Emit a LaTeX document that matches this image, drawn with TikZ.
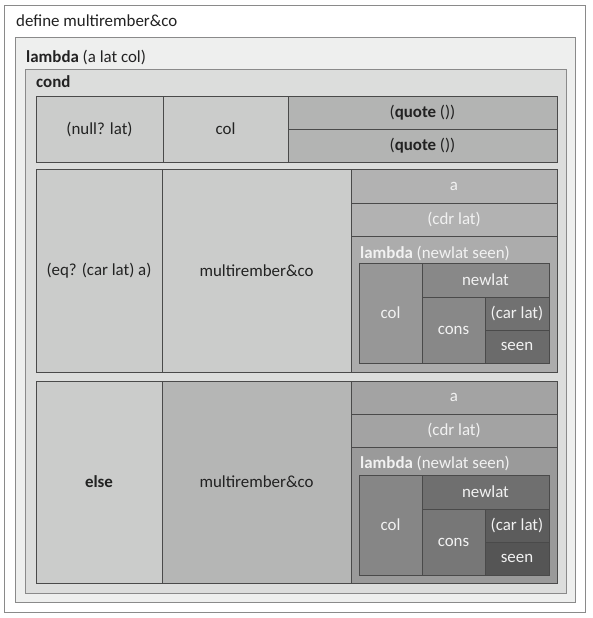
\documentclass[tikz,border=0pt]{standalone}
\usepackage{fontspec}
\setmainfont{Carlito}
\definecolor{txtdark}{HTML}{222222}
\definecolor{txtlight}{HTML}{F2F2F2}
\definecolor{cellline}{HTML}{4A4A4A}
\definecolor{outerline}{HTML}{8A8A8A}
\definecolor{lamfill}{HTML}{EEEFEE}
\definecolor{condfill}{HTML}{DCDDDC}
\definecolor{lightcell}{HTML}{CBCCCB}
\definecolor{quotecell}{HTML}{B3B4B3}
\definecolor{rtwoarg}{HTML}{B2B2B2}
\definecolor{rtwolam}{HTML}{ACACAC}
\definecolor{rtwocol}{HTML}{979797}
\definecolor{rtwonew}{HTML}{888888}
\definecolor{rtwocons}{HTML}{888888}
\definecolor{rtwocar}{HTML}{717171}
\definecolor{rtwoseen}{HTML}{6B6B6B}
\definecolor{rthrmulti}{HTML}{B5B6B5}
\definecolor{rthrarg}{HTML}{A3A3A3}
\definecolor{rthrlam}{HTML}{9A9A9A}
\definecolor{rthrcol}{HTML}{868686}
\definecolor{rthrnew}{HTML}{6F6F6F}
\definecolor{rthrcons}{HTML}{777777}
\definecolor{rthrcar}{HTML}{5C5C5C}
\definecolor{rthrseen}{HTML}{555555}
\tikzset{
  cellbox/.style={draw=cellline, line width=1pt, inner sep=0pt, outer sep=0pt, align=center},
  contbox/.style={draw=outerline, line width=0.9pt},
  lbl/.style={anchor=west, inner sep=0pt, text=txtdark},
}
\newcommand\bx[8]{%
  \pgfmathsetmacro\bxw{#4-#2}%
  \pgfmathsetmacro\bxh{#5-#3}%
  \node[cellbox, fill=#6, text=#7, minimum width=\bxw pt, minimum height=\bxh pt] (#1) at ({(#2+#4)/2},{(#3+#5)/2}) {#8};%
}
\begin{document}
\begin{tikzpicture}[x=1pt, y=-1pt, font=\fontsize{16.9}{20}\selectfont]
\useasboundingbox (0,0) rectangle (592,618);
\fill[white] (0,0) rectangle (592,618);
% containers
\draw[contbox, fill=white] (4,5) rectangle (585,612);
\node[lbl] (deflbl) at (16,21) {define multirember\&co};
\draw[contbox, fill=lamfill] (15,37) rectangle (575,602);
\node[lbl] (lamlbl) at (26,57) {\textbf{lambda} (a lat col)};
\draw[contbox, fill=condfill] (25,69) rectangle (566,593);
\node[lbl] (condlbl) at (36,82) {\textbf{cond}};
% row 1
\bx{nulllat}{36}{96}{163}{162}{lightcell}{txtdark}{(null? lat)}
\bx{colone}{163}{96}{288}{162}{lightcell}{txtdark}{col}
\bx{quoteA}{288}{96}{557}{129}{quotecell}{txtdark}{(\textbf{quote} ())}
\bx{quoteB}{288}{129}{557}{162}{quotecell}{txtdark}{(\textbf{quote} ())}
% row 2
\bx{eqq}{36}{169}{162}{372}{lightcell}{txtdark}{(eq? (car lat) a)}
\bx{multiA}{162}{169}{351}{372}{lightcell}{txtdark}{multirember\&co}
\bx{argA}{351}{169}{557}{203}{rtwoarg}{txtlight}{a}
\bx{cdrA}{351}{203}{557}{236}{rtwoarg}{txtlight}{(cdr lat)}
\bx{lamA}{351}{236}{557}{372}{rtwolam}{txtlight}{}
\node[lbl, text=txtlight] (lamAlbl) at (360,253) {\textbf{lambda} (newlat seen)};
\bx{colA}{359}{263}{422}{363}{rtwocol}{txtlight}{col}
\bx{newA}{422}{263}{549}{297}{rtwonew}{txtlight}{newlat}
\bx{consA}{422}{297}{485}{363}{rtwocons}{txtlight}{cons}
\bx{carA}{485}{297}{549}{330}{rtwocar}{txtlight}{(car lat)}
\bx{seenA}{485}{330}{549}{363}{rtwoseen}{txtlight}{seen}
% row 3
\bx{elsecell}{36}{381}{162}{583}{lightcell}{txtdark}{\textbf{else}}
\bx{multiB}{162}{381}{351}{583}{rthrmulti}{txtdark}{multirember\&co}
\bx{argB}{351}{381}{557}{414}{rthrarg}{txtlight}{a}
\bx{cdrB}{351}{414}{557}{447}{rthrarg}{txtlight}{(cdr lat)}
\bx{lamB}{351}{447}{557}{583}{rthrlam}{txtlight}{}
\node[lbl, text=txtlight] (lamBlbl) at (360,463) {\textbf{lambda} (newlat seen)};
\bx{colB}{359}{475}{422}{575}{rthrcol}{txtlight}{col}
\bx{newB}{422}{475}{549}{509}{rthrnew}{txtlight}{newlat}
\bx{consB}{422}{509}{485}{575}{rthrcons}{txtlight}{cons}
\bx{carB}{485}{509}{549}{542}{rthrcar}{txtlight}{(car lat)}
\bx{seenB}{485}{542}{549}{575}{rthrseen}{txtlight}{seen}
\end{tikzpicture}
\end{document}
